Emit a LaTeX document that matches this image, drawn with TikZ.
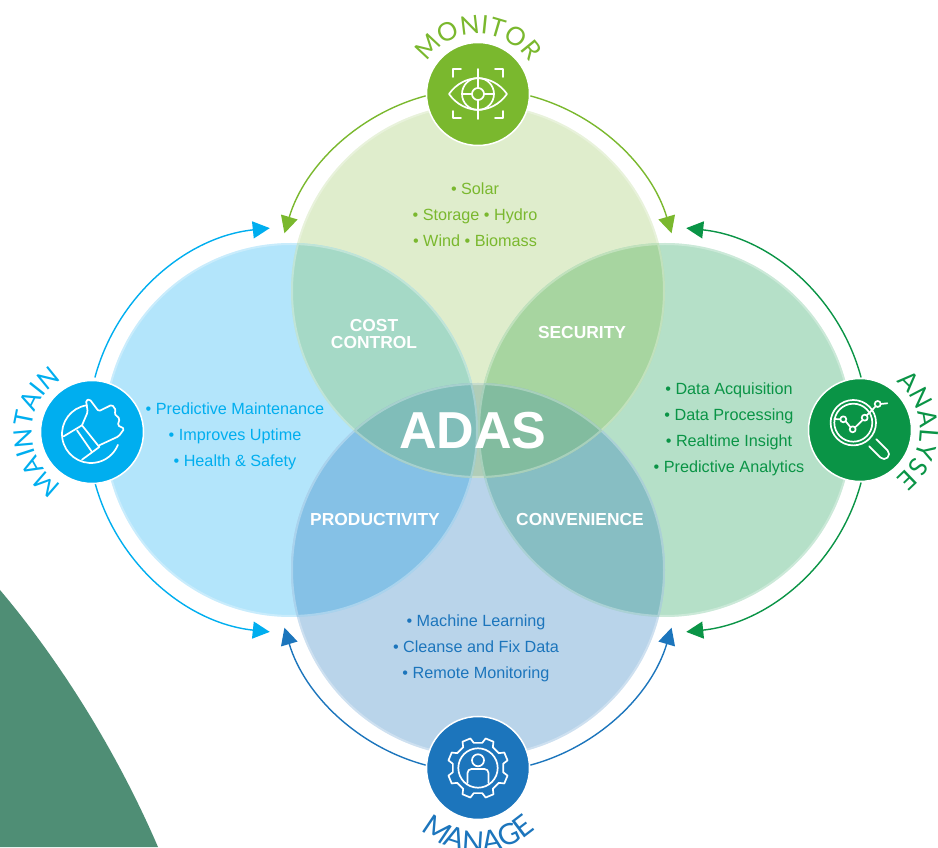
\documentclass[tikz,border=0pt]{standalone}
\usepackage{fontspec}
\setmainfont{Liberation Sans}
\newfontfamily\lightf{Lato}
\usetikzlibrary{arrows.meta,decorations.text}
\definecolor{cgreen}{HTML}{7AB82E}
\definecolor{cblue}{HTML}{00AEEF}
\definecolor{cdark}{HTML}{0A9446}
\definecolor{cnavy}{HTML}{1C75BC}
\definecolor{ftop}{HTML}{DFEDCC}
\definecolor{fleft}{HTML}{B3E5FB}
\definecolor{fright}{HTML}{B5E0C8}
\definecolor{fbot}{HTML}{B9D4EA}
\definecolor{ftl}{HTML}{A5D9C6}
\definecolor{ftr}{HTML}{A7D5A0}
\definecolor{fbl}{HTML}{85C1E6}
\definecolor{fbr}{HTML}{87BEC3}
\definecolor{fcl}{HTML}{80BDB9}
\definecolor{fcr}{HTML}{82BC9F}
\definecolor{fcm}{HTML}{B0CDB8}
\definecolor{bgshape}{HTML}{4F8E75}
\newcommand{\arclabel}[1]{\lightf\fontsize{25.5}{26}\selectfont\color{#1}}
\newcommand{\arclabelw}[1]{\lightf\fontsize{29}{29}\selectfont\color{#1}}
\tikzset{
  x=1pt,y=1pt,
  venn/.style={circle,minimum size=374pt,inner sep=0pt,outer sep=0pt},
  hub/.style={circle,minimum size=103pt,inner sep=0pt,outer sep=0pt,draw=white,line width=1.5pt},
  body/.style={font=\fontsize{16.2}{26}\selectfont,align=center,inner sep=0pt},
  tag/.style={font=\bfseries\fontsize{17.4}{17.4}\selectfont,text=white,align=center,inner sep=0pt},
  ring/.style={line width=1.4pt,-{Triangle[length=17pt,width=17pt]}},
  edgeglow/.style={draw=white,draw opacity=.3,line width=2pt},
  icon/.style={draw=white,line width=1.7pt,line join=round,line cap=round}
}
\begin{document}
\begin{tikzpicture}
\useasboundingbox (0,0) rectangle (938,847);
\fill[bgshape] (0,257) .. controls (55,192) and (114,102) .. (158,0) -- (0,0) -- cycle;
% Venn circles
\node[venn,fill=ftop] (ctop) at (478,556) {};
\node[venn,fill=fleft] (cleft) at (291,417) {};
\node[venn,fill=fright] (cright) at (665,417) {};
\node[venn,fill=fbot] (cbot) at (478,277) {};
\begin{scope}\clip (ctop.center) circle (187);
  \fill[ftl] (cleft.center) circle (187);
  \fill[ftr] (cright.center) circle (187);
\end{scope}
\begin{scope}\clip (cbot.center) circle (187);
  \fill[fbl] (cleft.center) circle (187);
  \fill[fbr] (cright.center) circle (187);
  \clip (ctop.center) circle (187);
  \fill[fcm] (280,200) rectangle (680,600);
  \fill[fcl] (cleft.center) circle (187);
  \fill[fcr] (cright.center) circle (187);
\end{scope}
\draw[edgeglow] (ctop.center) circle (186) (cleft.center) circle (186) (cright.center) circle (186) (cbot.center) circle (186);
% ring arrows
\draw[ring,cgreen] ([shift={(105:202)}]ctop.center) arc (105:163.4:202);
\draw[ring,cgreen] ([shift={(75:202)}]ctop.center) arc (75:16.6:202);
\draw[ring,cblue] ([shift={(165:203)}]cleft.center) arc (165:96:203);
\draw[ring,cblue] ([shift={(195:203)}]cleft.center) arc (195:264:203);
\draw[ring,cdark] ([shift={(15:203)}]cright.center) arc (15:84:203);
\draw[ring,cdark] ([shift={(-15:203)}]cright.center) arc (-15:-84:203);
\draw[ring,cnavy] ([shift={(255:202)}]cbot.center) arc (255:196.6:202);
\draw[ring,cnavy] ([shift={(285:202)}]cbot.center) arc (285:343.4:202);
% hubs
\node[hub,fill=cgreen] (hmon) at (478,753) {};
\node[hub,fill=cblue] (hmai) at (92,415) {};
\node[hub,fill=cdark] (hana) at (860,417) {};
\node[hub,fill=cnavy] (hman) at (478,79) {};
% curved labels
\path[decorate,decoration={text along path,text align=center,text={|\arclabel{cgreen}|MONITOR}}] ([shift={(175:60)}]hmon.center) arc (175:5:60);
\path[decorate,decoration={text along path,text align=center,text={|\arclabel{cblue}|MAINTAIN}}] ([shift={(265:60)}]hmai.center) arc (265:95:60);
\path[decorate,decoration={text along path,text align=center,text={|\arclabel{cdark}|ANALYSE}}] ([shift={(85:60)}]hana.center) arc (85:-85:60);
\path[decorate,decoration={text along path,text align=center,text={|\arclabelw{cnavy}|MANAGE}}] ([shift={(185:84)}]hman.center) arc (185:355:84);
% body text
\node[body,text=cgreen] (tmon) at (475,632) {• Solar\\• Storage • Hydro\\• Wind • Biomass};
\node[body,text=cblue] (tmai) at (235,411) {• Predictive Maintenance\\• Improves Uptime\\• Health \& Safety};
\node[body,text=cdark] (tana) at (729,418) {• Data Acquisition\\• Data Processing\\• Realtime Insight\\• Predictive Analytics};
\node[body,text=cnavy] (tman) at (476,199) {• Machine Learning\\• Cleanse and Fix Data\\• Remote Monitoring};
\node[tag] (tcost) at (374,513) {COST\\CONTROL};
\node[tag] (tsec) at (582,514) {SECURITY};
\node[tag] (tprod) at (375,327) {PRODUCTIVITY};
\node[tag] (tconv) at (580,327) {CONVENIENCE};
\node[font=\bfseries\fontsize{52}{52}\selectfont,text=white,inner sep=0pt] (tadas) at (473,416) {ADAS};
% eye icon
\begin{scope}[shift={(hmon.center)},icon]
  \draw (-29,0) .. controls (-14,21) and (14,21) .. (29,0) .. controls (14,-21) and (-14,-21) .. (-29,0) -- cycle;
  \draw (0,0) circle (6);
  \draw (0,0) circle (16);
  \draw (0,6) -- (0,25) (0,-6) -- (0,-25) (-6,0) -- (-16,0) (6,0) -- (16,0);
  \draw (-25,17) -- (-25,25) -- (-17,25);
  \draw (25,17) -- (25,25) -- (17,25);
  \draw (-25,-17) -- (-25,-24) -- (-17,-24);
  \draw (25,-17) -- (25,-24) -- (17,-24);
\end{scope}
% thumb icon
\begin{scope}[shift={(hmai.center)},icon]
  \draw (-1,-2) ++(98:29) arc (98:338:29);
  \draw[rounded corners=1.5pt] (-10,6.7) -- (-4.3,20) -- (-6,31.7) -- (-2.3,32.7) -- (6.7,20.7) -- (20,27.3) -- (24,21.7) -- (22.3,18.3) -- (27.7,13.3) -- (25.7,6.7) -- (32.3,3.3) -- (26.7,-4.3) -- (7.3,-13.3);
  \draw (-28.3,-4.3) -- (-10,6.7) -- (7.3,-15) -- (-10,-27.7);
  \draw (-15,1.7) -- (0,-20);
\end{scope}
% magnifier icon
\begin{scope}[shift={(hana.center)},icon]
  \draw (-6.7,7.3) circle (22.7) circle (19);
  \draw (-25.7,11) -- (-19.7,10.7) (-14.3,8.7) -- (-9.5,2.7) (-5,2.5) -- (2.7,10) (6.7,14.5) -- (15.7,23.7) (20.7,26) -- (27.3,26.7);
  \draw (-16.7,10.7) circle (3) (-7.3,0.7) circle (3) (4.7,12.3) circle (3) (17.7,26) circle (3);
  \draw[rotate=-45] (18,5) -- (34,5) arc (90:-90:5) -- (18,-5);
\end{scope}
% gear icon
\begin{scope}[shift={(hman.center)},icon]
  \draw (14.5:30.5) \foreach \a in {22.5,67.5,...,337.5} { -- (\a-8:30.5) -- (\a+8:30.5) -- (\a+13:25.5) -- (\a+32:25.5)} -- cycle;
  \draw (0,0) circle (19.7);
  \draw (0,7.7) circle (6);
  \draw[rounded corners=4pt] (-10.5,-15) -- (-10.5,-1) -- (10.5,-1) -- (10.5,-15);
\end{scope}
\end{tikzpicture}
\end{document}
